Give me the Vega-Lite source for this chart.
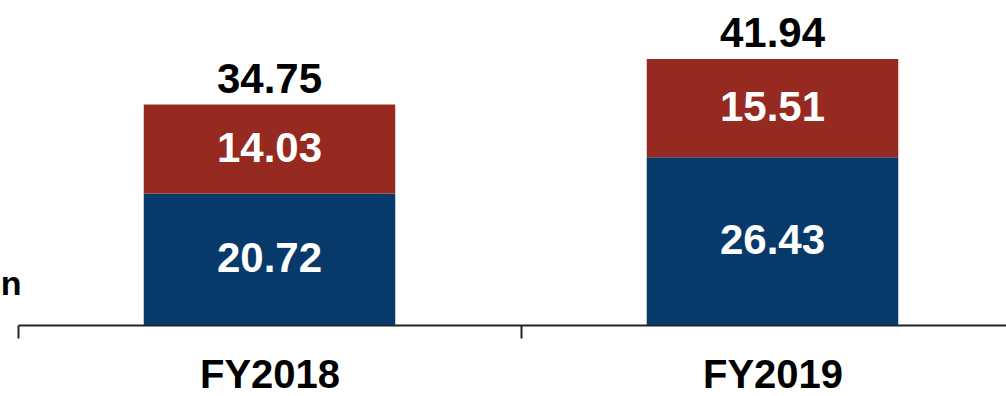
{
  "$schema": "https://vega.github.io/schema/vega-lite/v6.json",
  "width": 988,
  "height": 325,
  "autosize": {"type": "none"},
  "padding": {"left": 18, "top": 0, "right": 0, "bottom": 71},
  "background": "white",
  "config": {"view": {"stroke": null}, "font": "Liberation Sans"},
  "datasets": {
    "seg": [
      {"year": "FY2018", "segment": "A", "order": 1, "value": 20.72},
      {"year": "FY2018", "segment": "B", "order": 2, "value": 14.03},
      {"year": "FY2019", "segment": "A", "order": 1, "value": 26.43},
      {"year": "FY2019", "segment": "B", "order": 2, "value": 15.51}
    ],
    "tot": [
      {"year": "FY2018", "total": 34.75},
      {"year": "FY2019", "total": 41.94}
    ]
  },
  "layer": [
    {
      "data": {"name": "seg"},
      "mark": {"type": "bar"},
      "encoding": {
        "x": {
          "field": "year", "type": "nominal", "sort": ["FY2018", "FY2019"], "title": null,
          "scale": {"range": [0, 1006], "paddingInner": 0.5, "paddingOuter": 0.25},
          "axis": {
            "title": null, "labelAngle": 0, "tickOffset": -251.5,
            "labelOffset": 251.5, "labelFontSize": 40, "labelFontWeight": "bold",
            "labelColor": "#000", "labelBaseline": "alphabetic", "labelPadding": 49,
            "tickSize": 13, "tickWidth": 2, "tickColor": "#222",
            "domainWidth": 2, "domainColor": "#222", "grid": false
          }
        },
        "y": {
          "field": "value", "type": "quantitative", "stack": "zero", "title": "Bn",
          "scale": {"domain": [0, 51.24], "nice": false},
          "axis": {
            "title": "Bn", "domain": false, "ticks": false, "labels": false, "grid": false,
            "titleAngle": 0, "titleX": 3, "titleY": 294, "titleAlign": "right",
            "titleBaseline": "alphabetic", "titleFontSize": 34, "titleFontWeight": "bold",
            "titleColor": "#000"
          }
        },
        "color": {
          "field": "segment", "type": "nominal",
          "scale": {"domain": ["A", "B"], "range": ["#073a6a", "#972a20"]},
          "legend": null
        },
        "order": {"field": "order"}
      }
    },
    {
      "data": {"name": "seg"},
      "transform": [
        {"stack": "value", "groupby": ["year"], "sort": [{"field": "order"}], "as": ["v0", "v1"]},
        {"calculate": "(datum.v0 + datum.v1) / 2", "as": "mid"}
      ],
      "mark": {"type": "text", "color": "white", "fontSize": 42, "fontWeight": "bold", "baseline": "middle", "align": "center"},
      "encoding": {
        "x": {"field": "year", "type": "nominal", "sort": ["FY2018", "FY2019"], "title": null},
        "y": {"field": "mid", "type": "quantitative", "title": "Bn"},
        "text": {"field": "value", "type": "quantitative", "format": ".2f"}
      }
    },
    {
      "data": {"name": "tot"},
      "mark": {"type": "text", "color": "#000", "fontSize": 42, "fontWeight": "bold", "baseline": "alphabetic", "align": "center", "dy": -12},
      "encoding": {
        "x": {"field": "year", "type": "nominal", "sort": ["FY2018", "FY2019"], "title": null},
        "y": {"field": "total", "type": "quantitative", "title": "Bn"},
        "text": {"field": "total", "type": "quantitative", "format": ".2f"}
      }
    }
  ]
}
